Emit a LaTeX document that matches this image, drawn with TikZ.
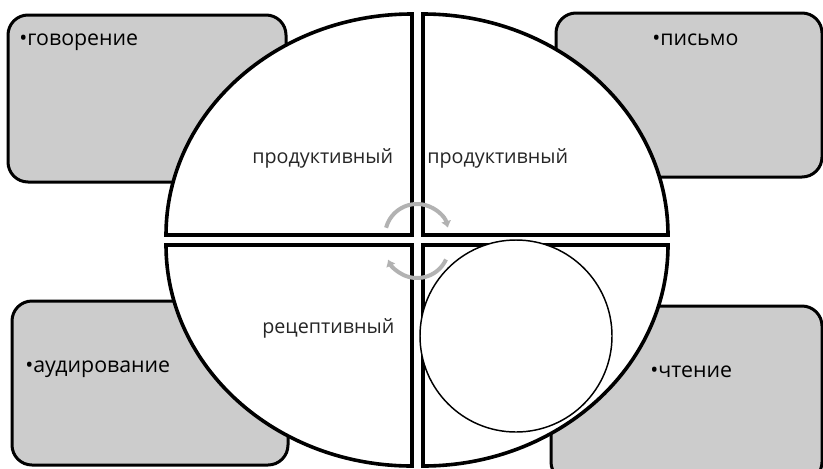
\documentclass[tikz,border=0pt]{standalone}
\usepackage{fontspec}
\setmainfont{Open Sans}
\usetikzlibrary{arrows.meta}
\definecolor{boxgray}{RGB}{204,204,204}
\definecolor{arrowgray}{RGB}{178,178,178}
\tikzset{
skillbox/.style={draw=black, line width=2.25pt, fill=boxgray, rounded corners=15pt},
quarter/.style={draw=black, line width=2.7pt, fill=white},
cyclearrow/.style={draw=arrowgray, line width=3pt, -{Latex[length=5pt,width=8pt]}},
skilltext/.style={anchor=base west, inner sep=0pt, font=\fontsize{16}{18}\selectfont},
kindtext/.style={anchor=base west, inner sep=0pt, font=\fontsize{14.8}{17}\selectfont, text=black!85}}
\begin{document}
\begin{tikzpicture}[x=0.75pt,y=0.75pt,yscale=-1,xscale=1]
\useasboundingbox (0,0) rectangle (823,468);

%Shape: Rounded Rect [id:speak]
\draw [skillbox] (8,15) rectangle (286,182) ;
%Shape: Rounded Rect [id:write]
\draw [skillbox] (556,13) rectangle (822,177) ;
%Shape: Rounded Rect [id:listen]
\draw [skillbox] (12,301) rectangle (288,465) ;
%Shape: Rounded Rect [id:read]
\draw [skillbox] (551,306) rectangle (822,482) ;

%Shape: Quarter Ellipse [id:topleft]
\draw [quarter] (412,235) -- (166,235) arc (180:270:246 and 221) -- cycle ;
%Shape: Quarter Ellipse [id:topright]
\draw [quarter] (423,235) -- (423,14) arc (270:360:245 and 221) -- cycle ;
%Shape: Quarter Ellipse [id:bottomleft]
\draw [quarter] (412,245) -- (412,466) arc (90:180:246 and 221) -- cycle ;
%Shape: Quarter Ellipse [id:bottomright]
\draw [quarter] (423,245) -- (668,245) arc (0:90:245 and 221) -- cycle ;

%Shape: Circle [id:inner]
\draw [line width=1.1pt, fill=white] (516,336) circle [radius=96] ;

%Curve Lines [id:cycletop]
\draw [cyclearrow] (417,236) ++(195:32) arc (195:345:32) ;
%Curve Lines [id:cyclebottom]
\draw [cyclearrow] (417,246) ++(25:32) arc (25:155:32) ;

% Text Node
\node [skilltext] (speaktext) at (19,45) {•говорение};
% Text Node
\node [skilltext] (writetext) at (652,45) {•письмо};
% Text Node
\node [skilltext] (listentext) at (25,372) {•аудирование};
% Text Node
\node [skilltext] (readtext) at (650,377) {•чтение};
% Text Node
\node [kindtext] (prodleft) at (252,163) {продуктивный};
% Text Node
\node [kindtext] (prodright) at (427,163) {продуктивный};
% Text Node
\node [kindtext] (recleft) at (262,333) {рецептивный};

\end{tikzpicture}
\end{document}
